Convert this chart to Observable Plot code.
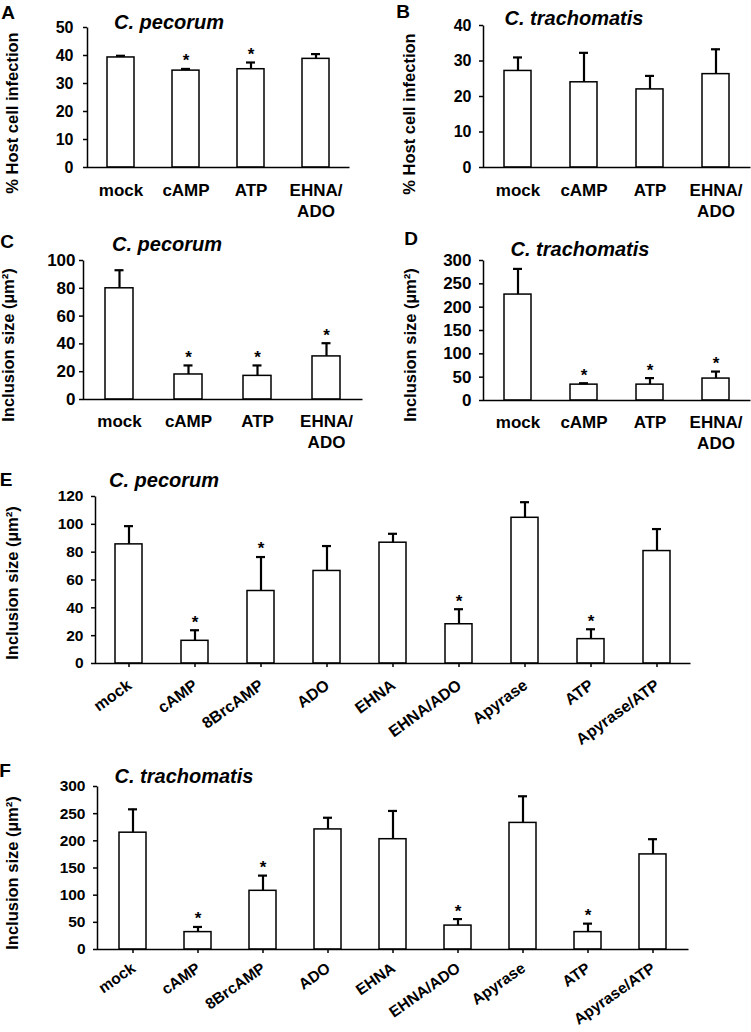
<!DOCTYPE html>
<html><head><meta charset="utf-8">
<script src="https://cdn.jsdelivr.net/npm/d3@7"></script>
<script src="https://cdn.jsdelivr.net/npm/@observablehq/plot@0.6"></script>
<style>
body{margin:0;background:#fff;}
#fig{position:relative;width:751px;height:1032px;overflow:hidden;font-family:"Liberation Sans",Arial,sans-serif;font-weight:bold;color:#000;background:#fff}
.lab{position:absolute;white-space:nowrap;line-height:1;transform:translate(-50%,-50%)}
.rot{transform:translate(-50%,-50%) rotate(-90deg)}
.chart{position:absolute}
.chart svg{overflow:visible;background:transparent}
</style></head><body><div id="fig"></div>
<script>
// ---- data ----
const labels4 = ["mock", "cAMP", "ATP", "EHNA/ADO"];
const labels9 = ["mock", "cAMP", "8BrcAMP", "ADO", "EHNA", "EHNA/ADO", "Apyrase", "ATP", "Apyrase/ATP"];
const twoLine = {"EHNA/ADO": "EHNA/\nADO"};

// A: C. pecorum, % host cell infection
const aMean = [39.3, 34.6, 35.1, 38.8];
const aErr  = [0.6, 0.6, 2.4, 1.7];
const aStar = [false, true, true, false];
const aTicks = [0, 10, 20, 30, 40, 50];

// B: C. trachomatis, % host cell infection
const bMean = [27.2, 24.0, 22.0, 26.3];
const bErr  = [3.8, 8.3, 3.8, 7.0];
const bStar = [false, false, false, false];
const bTicks = [0, 10, 20, 30, 40];

// C: C. pecorum, inclusion size
const cMean = [80, 18, 17, 31];
const cErr  = [13, 6.5, 7.5, 9.5];
const cStar = [false, true, true, true];
const cTicks = [0, 20, 40, 60, 80, 100];

// D: C. trachomatis, inclusion size
const dMean = [227, 34, 34, 47];
const dErr  = [55, 3, 14, 15];
const dStar = [false, true, true, true];
const dTicks = [0, 50, 100, 150, 200, 250, 300];

// E: C. pecorum, inclusion size (9 treatments)
const eMean = [85.6, 16.3, 52.1, 66.5, 86.8, 28.2, 104.7, 17.5, 80.8];
const eErr  = [13.1, 7.6, 24.4, 17.9, 6.4, 10.8, 11.2, 7.1, 15.8];
const eStar = [false, true, true, false, false, true, false, true, false];
const eTicks = [0, 20, 40, 60, 80, 100, 120];

// F: C. trachomatis, inclusion size (9 treatments)
const fMean = [215, 32, 108, 221, 203, 44, 233, 32, 175];
const fErr  = [43, 9.5, 28, 21.5, 52, 12, 49, 15.6, 28];
const fStar = [false, true, true, false, false, true, false, true, false];
const fTicks = [0, 50, 100, 150, 200, 250, 300];

const fig = document.getElementById("fig");
const FONT = '"Liberation Sans", Arial, sans-serif';

function panel(o) {
  const data = o.labels.map((t, i) => ({t, v: o.mean[i], e: o.mean[i] + o.err[i], s: o.star[i]}));
  const w = o.width - o.ml - o.mr, h = o.height - o.mt - o.mb;
  const chart = Plot.plot({
    width: o.width, height: o.height,
    marginLeft: o.ml, marginRight: o.mr, marginTop: o.mt, marginBottom: o.mb,
    style: {fontFamily: FONT, fontWeight: "bold", fontSize: o.fs + "px", background: "transparent", color: "black"},
    x: {domain: o.labels, paddingInner: 0.59, paddingOuter: 0.295, label: null},
    y: {domain: [0, o.ticks[o.ticks.length - 1]], label: null},
    marks: [
      Plot.barY(data, {x: "t", y: "v", fill: "white", stroke: "black", strokeWidth: 1.5}),
      Plot.ruleX(data, {x: "t", y1: "v", y2: "e", stroke: "black", strokeWidth: 2.2}),
      Plot.tickY(data, {x: "t", y: "e", stroke: "black", strokeWidth: 2.2, insetLeft: o.cap, insetRight: o.cap}),
      Plot.text(data.filter(d => d.s), {x: "t", y: "e", text: () => "*", dy: -8, fontSize: 17, fontWeight: "bold"}),
      Plot.frame({stroke: "black", strokeWidth: 1.5, strokeDasharray: `0 ${w + h} ${w + h}`}),
      Plot.axisY({ticks: o.ticks, tickSize: 4, tickPadding: o.yPad, strokeWidth: 1.5, label: null, fontSize: o.yfs}),
      Plot.axisX({tickSize: o.xTick, tickPadding: o.xPad, tickRotate: o.rotate || 0, strokeWidth: 1.5,
                  label: null, fontSize: o.xfs, lineHeight: 1.22,
                  tickFormat: d => twoLine[d] && !o.rotate ? twoLine[d] : d})
    ]
  });
  const div = document.createElement("div");
  div.className = "chart";
  div.style.left = o.left + "px";
  div.style.top = o.top + "px";
  div.appendChild(chart);
  fig.appendChild(div);
}

function label(text, cx, cy, size, extra = "", cls = "lab") {
  const d = document.createElement("div");
  d.className = cls;
  d.textContent = text;
  d.style.left = cx + "px";
  d.style.top = cy + "px";
  d.style.fontSize = size + "px";
  if (extra) d.style.cssText += extra;
  fig.appendChild(d);
}

panel({labels: labels4, mean: aMean, err: aErr, star: aStar, ticks: aTicks,
  left: 0, top: 0, width: 375, height: 220, ml: 87, mr: 26, mt: 27, mb: 53,
  fs: 16, yfs: 16, xfs: 17, yPad: 10, xTick: 0, xPad: 14, cap: 9});
panel({labels: labels4, mean: bMean, err: bErr, star: bStar, ticks: bTicks,
  left: 375, top: 0, width: 376, height: 220, ml: 108, mr: 1, mt: 25, mb: 53,
  fs: 16, yfs: 16, xfs: 17, yPad: 8, xTick: 0, xPad: 14, cap: 9});
panel({labels: labels4, mean: cMean, err: cErr, star: cStar, ticks: cTicks,
  left: 0, top: 225, width: 375, height: 225, ml: 83, mr: 13, mt: 35, mb: 51,
  fs: 16, yfs: 17, xfs: 17, yPad: 4, xTick: 0, xPad: 13, cap: 9.5});
panel({labels: labels4, mean: dMean, err: dErr, star: dStar, ticks: dTicks,
  left: 375, top: 225, width: 376, height: 225, ml: 108, mr: 1, mt: 35, mb: 50,
  fs: 16, yfs: 17, xfs: 17, yPad: 8, xTick: 0, xPad: 13, cap: 9});
panel({labels: labels9, mean: eMean, err: eErr, star: eStar, ticks: eTicks,
  left: 0, top: 450, width: 751, height: 280, ml: 95, mr: 61, mt: 46, mb: 67,
  fs: 15, yfs: 15.5, xfs: 16, yPad: 8, xTick: 4, xPad: 15, rotate: -36, cap: 9});
panel({labels: labels9, mean: fMean, err: fErr, star: fStar, ticks: fTicks,
  left: 0, top: 735, width: 751, height: 297, ml: 97, mr: 63, mt: 51, mb: 83,
  fs: 15, yfs: 15.5, xfs: 15.5, yPad: 8, xTick: 4, xPad: 12, rotate: -35, cap: 9});

// panel letters
label("A", 8, 12, 19);
label("B", 403, 11, 19);
label("C", 7, 241, 19);
label("D", 411, 238, 19);
label("E", 6, 479, 19);
label("F", 5, 770, 19);
// species titles
const it = "font-style:italic;";
label("C. pecorum", 169, 22, 20, it);
label("C. trachomatis", 574, 18, 20, it);
label("C. pecorum", 167, 244, 20, it);
label("C. trachomatis", 580, 249, 20, it);
label("C. pecorum", 164, 480, 20, it);
label("C. trachomatis", 184, 776, 20, it);
// y-axis titles
label("% Host cell infection", 12, 113, 16.5, "", "lab rot");
label("% Host cell infection", 409, 114, 16.5, "", "lab rot");
label("Inclusion size (µm²)", 8, 345, 16.5, "", "lab rot");
label("Inclusion size (µm²)", 410, 345, 16.5, "", "lab rot");
label("Inclusion size (µm²)", 12, 583, 16.5, "", "lab rot");
label("Inclusion size (µm²)", 12, 873, 16.5, "", "lab rot");
</script>
</body></html>
